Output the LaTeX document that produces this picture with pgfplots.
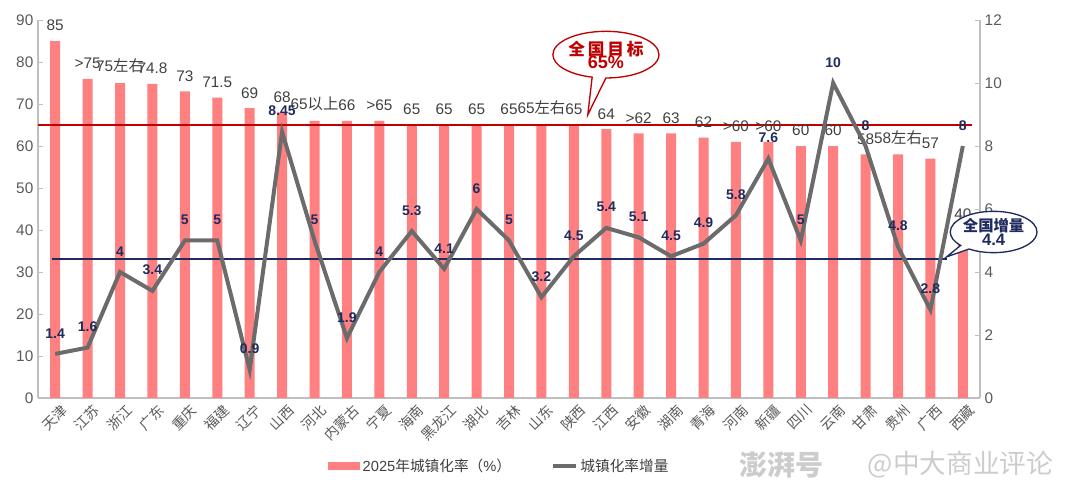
\documentclass[border=0pt]{standalone}
\usepackage{pgfplots}
\pgfplotsset{compat=1.18}
\usepackage{fontspec}
\setmainfont{Liberation Sans}
\newfontfamily\latfont{Liberation Sans}
\newfontfamily\cjk{Noto Sans CJK SC}
\usetikzlibrary{shapes.callouts}
% automatic switch to the CJK font for Chinese characters
\newXeTeXintercharclass\cjkclass
\count255="4E00
\loop
  \XeTeXcharclass\count255=\cjkclass
  \ifnum\count255<"9FFF \advance\count255 by 1
\repeat
\XeTeXcharclass"FF08=\cjkclass
\XeTeXcharclass"FF09=\cjkclass
\XeTeXcharclass"3001=\cjkclass
\XeTeXcharclass"3002=\cjkclass
\XeTeXinterchartoks 0 \cjkclass = {\cjk}
\XeTeXinterchartoks 4095 \cjkclass = {\cjk}
\XeTeXinterchartoks \cjkclass 0 = {\latfont}
\XeTeXinterchartokenstate=1

\definecolor{barred}{HTML}{FF8080}
\definecolor{linegray}{HTML}{6B6B6B}
\definecolor{darkred}{HTML}{C00000}
\definecolor{navy}{HTML}{1F2A5E}
\definecolor{ticgray}{HTML}{595959}
\definecolor{axgray}{HTML}{BFBFBF}
\definecolor{labgray}{HTML}{404040}

\begin{document}
\begin{tikzpicture}
\useasboundingbox (-28.5pt,-64.5pt) rectangle (781.5pt,298.5pt);
\begin{axis}[
  scale only axis, width=706.5pt, height=283.5pt,
  xmin=-0.53, xmax=28.53, ymin=0, ymax=90,
  clip=false,
  axis x line*=bottom, axis y line*=left,
  axis line style={draw=axgray, line width=0.8pt},
  ytick={0,10,...,90},
  xtick={0,...,28},
  xticklabels={天津,江苏,浙江,广东,重庆,福建,辽宁,山西,河北,内蒙古,宁夏,海南,黑龙江,湖北,吉林,山东,陕西,江西,安徽,湖南,青海,河南,新疆,四川,云南,甘肃,贵州,广西,西藏},
  tick align=inside, major tick length=4pt,
  ytick style={draw=axgray},
  xtick style={draw=none},
  /pgf/number format/assume math mode=true,
  tick label style={font=\latfont\fontsize{11.5}{12}\selectfont, text=ticgray},
  xticklabel style={font=\cjk\fontsize{10.5}{11}\selectfont, rotate=45, anchor=north east, text=ticgray, inner sep=1pt, yshift=-4pt, xshift=1pt},
  legend columns=2,
  legend style={at={(0.49,-0.18)}, anchor=center, draw=none, fill=none,
    font=\latfont\fontsize{11}{13}\selectfont, text=labgray,
    /tikz/every even column/.append style={column sep=28pt}},
]
\addplot[ybar, bar width=7.5pt, fill=barred, draw=none,
  nodes near coords, point meta=explicit symbolic,
  nodes near coords style={font=\latfont\fontsize{11.5}{12}\selectfont, text=labgray, anchor=south, yshift=4pt},
  legend image code/.code={\fill[barred] (0pt,-3pt) rectangle (24pt,3pt);}]
coordinates {
(0,85) [85]
(1,76) [>75]
(2,75) [75左右]
(3,74.8) [74.8]
(4,73) [73]
(5,71.5) [71.5]
(6,69) [69]
(7,68) [68]
(8,66) [65以上]
(9,66) [66]
(10,66) [>65]
(11,65) [65]
(12,65) [65]
(13,65) [65]
(14,65) [65]
(15,65) [65左右]
(16,65) [65]
(17,64) [64]
(18,63) [>62]
(19,63) [63]
(20,62) [62]
(21,61) [>60]
(22,61) [>60]
(23,60) [60]
(24,60) [60]
(25,58) [58]
(26,58) [58左右]
(27,57) [57]
(28,40) [40]
};
\addlegendentry{2025年城镇化率（\%）}
\addlegendimage{line legend, color=linegray, line width=3pt}
\addlegendentry{{\cjk 城镇化率增量}}
\addplot[sharp plot, forget plot, color=darkred, line width=1.5pt] coordinates {(-0.53,65) (28.28,65)};
\end{axis}

\begin{axis}[
  scale only axis, width=706.5pt, height=283.5pt,
  xmin=-0.53, xmax=28.53, ymin=0, ymax=12,
  clip=false,
  axis x line=none, axis y line*=right,
  axis line style={draw=axgray, line width=0.8pt},
  ytick={0,2,...,12},
  tick align=inside, major tick length=4pt,
  ytick style={draw=axgray},
  /pgf/number format/assume math mode=true,
  tick label style={font=\latfont\fontsize{11.5}{12}\selectfont, text=ticgray},
]
\addplot[sharp plot, color=navy, line width=1.5pt] coordinates {(-0.09,4.4) (27.5,4.4)};
\addplot[sharp plot, color=linegray, line width=3pt, mark=none,
  nodes near coords, point meta=explicit symbolic,
  nodes near coords style={font=\latfont\bfseries\fontsize{10.5}{11}\selectfont, text=navy, anchor=south, yshift=7pt}]
coordinates {
(0,1.4) [1.4]
(1,1.6) [1.6]
(2,4) [4]
(3,3.4) [3.4]
(4,5) [5]
(5,5) [5]
(6,0.9) [0.9]
(7,8.45) [8.45]
(8,5) [5]
(9,1.9) [1.9]
(10,4) [4]
(11,5.3) [5.3]
(12,4.1) [4.1]
(13,6) [6]
(14,5) [5]
(15,3.2) [3.2]
(16,4.5) [4.5]
(17,5.4) [5.4]
(18,5.1) [5.1]
(19,4.5) [4.5]
(20,4.9) [4.9]
(21,5.8) [5.8]
(22,7.6) [7.6]
(23,5) [5]
(24,10) [10]
(25,8) [8]
(26,4.8) [4.8]
(27,2.8) [2.8]
(28,8) [8]
};
\node[ellipse callout, draw=darkred, fill=white, line width=1pt,
  callout absolute pointer={(axis cs:16.43,8.99)},
  minimum width=78pt, minimum height=35pt, inner sep=0pt, align=center,
  text=darkred, font=\bfseries]
  at (axis cs:16.99,10.9) {{\cjk\fontsize{12.5}{13}\selectfont 全\,国\,目\,标}\\[-2pt]{\latfont\fontsize{13.5}{14}\selectfont 65\%}};
\node[ellipse callout, draw=navy, fill=white, line width=1pt,
  callout absolute pointer={(axis cs:27.5,4.48)},
  minimum width=63pt, minimum height=31pt, inner sep=0pt, align=center,
  text=navy, font=\bfseries]
  at (axis cs:28.95,5.27) {{\cjk\fontsize{11.5}{12}\selectfont 全国增量}\\[-2pt]{\latfont\fontsize{12.5}{13}\selectfont 4.4}};
\node[text=gray!40, font=\cjk\bfseries\itshape\fontsize{21}{22}\selectfont, anchor=west]
  at (rel axis cs:0.74,-0.177) {澎湃号};
\node[text=gray!40, font=\cjk\fontsize{20}{22}\selectfont, anchor=west]
  at (rel axis cs:0.876,-0.177) {@中大商业评论};
\end{axis}
\end{tikzpicture}
\end{document}
